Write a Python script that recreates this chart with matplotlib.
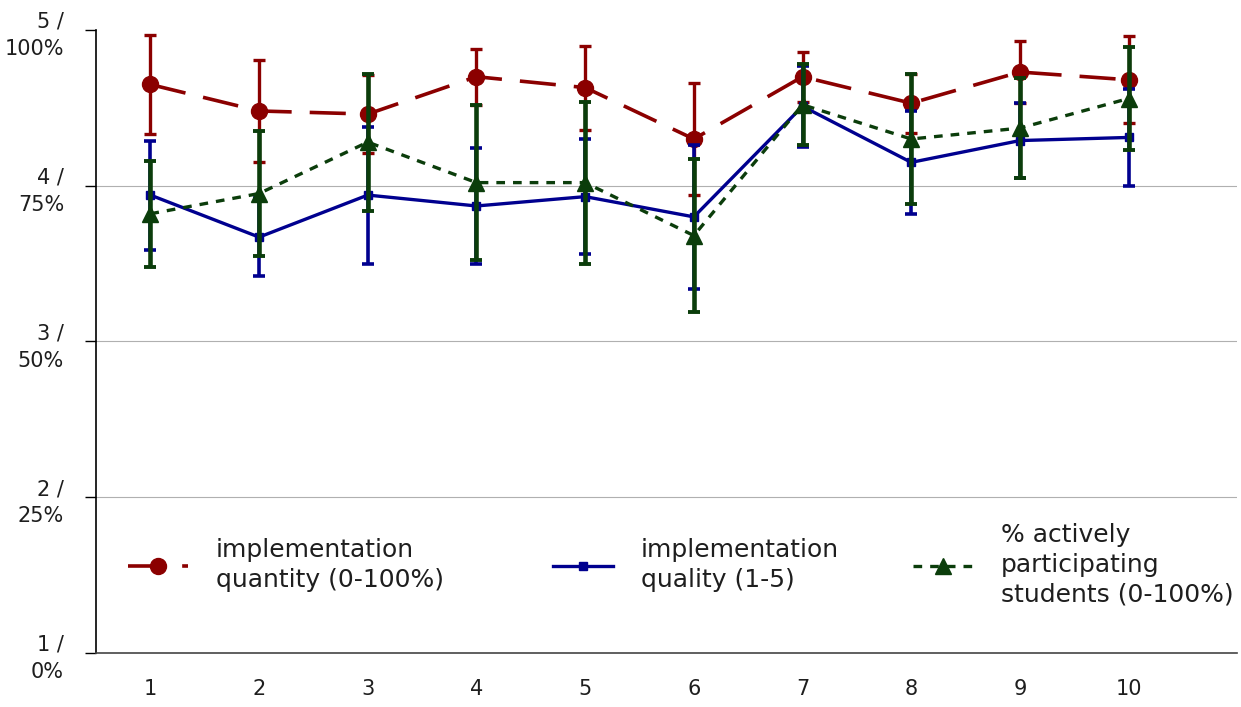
import numpy as np
import matplotlib.pyplot as plt

# Lesson ratings per session, scaled 1-5 (percentages mapped onto same axis)
sessions = [1, 2, 3, 4, 5, 6, 7, 8, 9, 10]

quantity = [4.65, 4.48, 4.46, 4.70, 4.63, 4.30, 4.70, 4.53, 4.73, 4.68]
quantity_err = [0.32, 0.33, 0.25, 0.18, 0.27, 0.36, 0.16, 0.19, 0.20, 0.28]

quality = [3.94, 3.67, 3.94, 3.87, 3.93, 3.80, 4.51, 4.15, 4.29, 4.31]
quality_err = [0.35, 0.25, 0.44, 0.37, 0.37, 0.46, 0.26, 0.33, 0.24, 0.31]

participation = [3.82, 3.95, 4.28, 4.02, 4.02, 3.68, 4.52, 4.30, 4.37, 4.56]
participation_err = [0.34, 0.40, 0.44, 0.50, 0.52, 0.49, 0.26, 0.42, 0.32, 0.33]

y_ticks = [1, 2, 3, 4, 5]
y_labels = ["1 /\n0%", "2 /\n25%", "3 /\n50%", "4 /\n75%", "5 /\n100%"]

series_names = ["implementation\nquantity (0-100%)",
                "implementation\nquality (1-5)",
                "% actively\nparticipating\nstudents (0-100%)"]

red = "#8b0000"
blue = "#00008f"
green = "#0b3d0b"
text_col = "#1e1e1e"

plt.rcParams["font.family"] = ["DejaVu Sans"]
fig = plt.figure(figsize=(12.41, 7.07), dpi=100)
ax = fig.add_axes([0.0774, 0.0764, 0.9196, 0.8812])

h1 = ax.errorbar(sessions, quantity, yerr=quantity_err, color=red, lw=2.6,
                 dashes=(10, 5), marker="o", ms=11.5, elinewidth=2.4,
                 capsize=4, capthick=2.4, zorder=3)
h1[2][0].set_linestyle("solid")
h2 = ax.errorbar(sessions, quality, yerr=quality_err, color=blue, lw=2.4,
                 marker="s", ms=6, elinewidth=2.6, capsize=4, capthick=2.6,
                 zorder=4)
h3 = ax.errorbar(sessions, participation, yerr=participation_err, color=green,
                 lw=2.4, dashes=(2.6, 2.4), marker="^", ms=12, elinewidth=3.3,
                 capsize=4, capthick=2.8, zorder=5)
h3[2][0].set_linestyle("solid")

ax.set_xlim(0.5, 11)
ax.set_ylim(1, 5)
ax.set_xticks(sessions)
ax.set_yticks(y_ticks)
ax.set_yticklabels(y_labels, fontsize=15, color=text_col, linespacing=1.45)
ax.tick_params(axis="y", length=8, width=1, pad=15)
ax.tick_params(axis="x", length=0, pad=19, labelsize=15, labelcolor=text_col)

for y in [2, 3, 4]:
    ax.axhline(y, color="#b0b0b0", lw=0.8, zorder=1)

for side in ["top", "right"]:
    ax.spines[side].set_visible(False)
ax.spines["left"].set_linewidth(1.2)
ax.spines["bottom"].set_linewidth(1.2)
ax.spines["bottom"].set_color("#444444")

# one legend per series so each entry sits where it should along the bottom
handles = [h1[0], h2[0], h3[0]]
x_anchor = [0.028, 0.4005, 0.716]
for i, (handle, name, xa) in enumerate(zip(handles, series_names, x_anchor)):
    leg = ax.legend([handle], [name], frameon=False, loc="center left",
                    bbox_to_anchor=(xa, 0.141), borderpad=0, borderaxespad=0,
                    fontsize=18, handlelength=2.4, handletextpad=1.1)
    for t in leg.get_texts():
        t.set_color(text_col)
        t.set_linespacing(1.3)
    if i < len(handles) - 1:
        ax.add_artist(leg)

fig.savefig("out.png", dpi=100, facecolor="white")
